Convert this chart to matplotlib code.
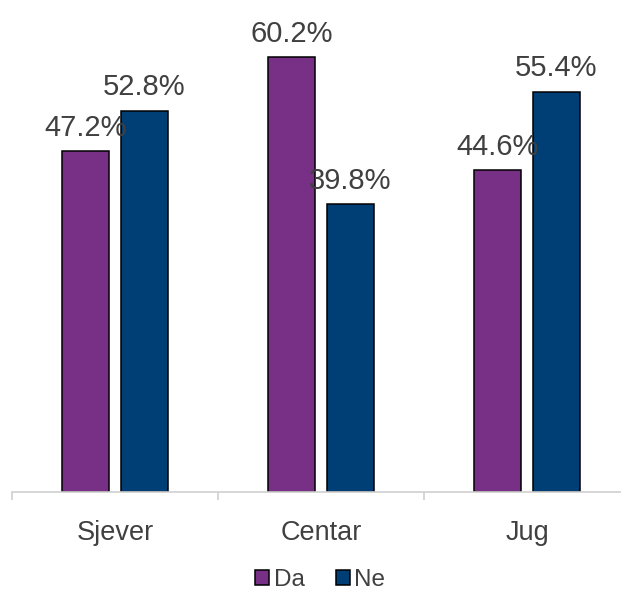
import matplotlib.pyplot as plt
import numpy as np

# data
categories = ['Sjever', 'Centar', 'Jug']
da_values = [47.2, 60.2, 44.6]
ne_values = [52.8, 39.8, 55.4]
series_names = ['Da', 'Ne']

plt.rcParams['font.family'] = ['Liberation Sans', 'DejaVu Sans']

fig = plt.figure(figsize=(6.21, 5.99), dpi=100)
ax = fig.add_axes([12 / 621, 107 / 599, 618 / 621, 492 / 599])

x = np.arange(len(categories))
w = 0.228
off = 0.142
b1 = ax.bar(x - off, da_values, w, color='#773085', edgecolor='black', linewidth=1.1, label=series_names[0])
b2 = ax.bar(x + off, ne_values, w, color='#003F75', edgecolor='black', linewidth=1.1, label=series_names[1])

for bars, vals in [(b1, da_values), (b2, ne_values)]:
    for bar, v in zip(bars, vals):
        ax.annotate('%.1f%%' % v, xy=(bar.get_x() + bar.get_width() / 2, v),
                    xytext=(0, 11), textcoords='offset points',
                    ha='center', va='baseline', fontsize=21, color='#404040')

ax.set_xlim(-0.5, 2.5)
ax.set_ylim(0, 68.1)
ax.set_yticks([])
for s in ['top', 'left', 'right']:
    ax.spines[s].set_visible(False)
ax.spines['bottom'].set_color('#d0d0d0')
ax.spines['bottom'].set_linewidth(1.2)

ax.set_xticks(x)
ax.set_xticklabels(categories, fontsize=19.5, color='#404040')
ax.tick_params(axis='x', which='major', length=0, pad=20)
ax.set_xticks([-0.5, 0.5, 1.5, 2.5], minor=True)
ax.tick_params(axis='x', which='minor', length=6, color='#d0d0d0', width=1.2)

fig.legend(loc='center', bbox_to_anchor=(0.516, 0.032), ncol=2, frameon=False,
           fontsize=17.5, handlelength=0.55, handleheight=0.55, handletextpad=0.2,
           columnspacing=1.3, labelcolor='#404040')

fig.savefig('out.png', dpi=100)
